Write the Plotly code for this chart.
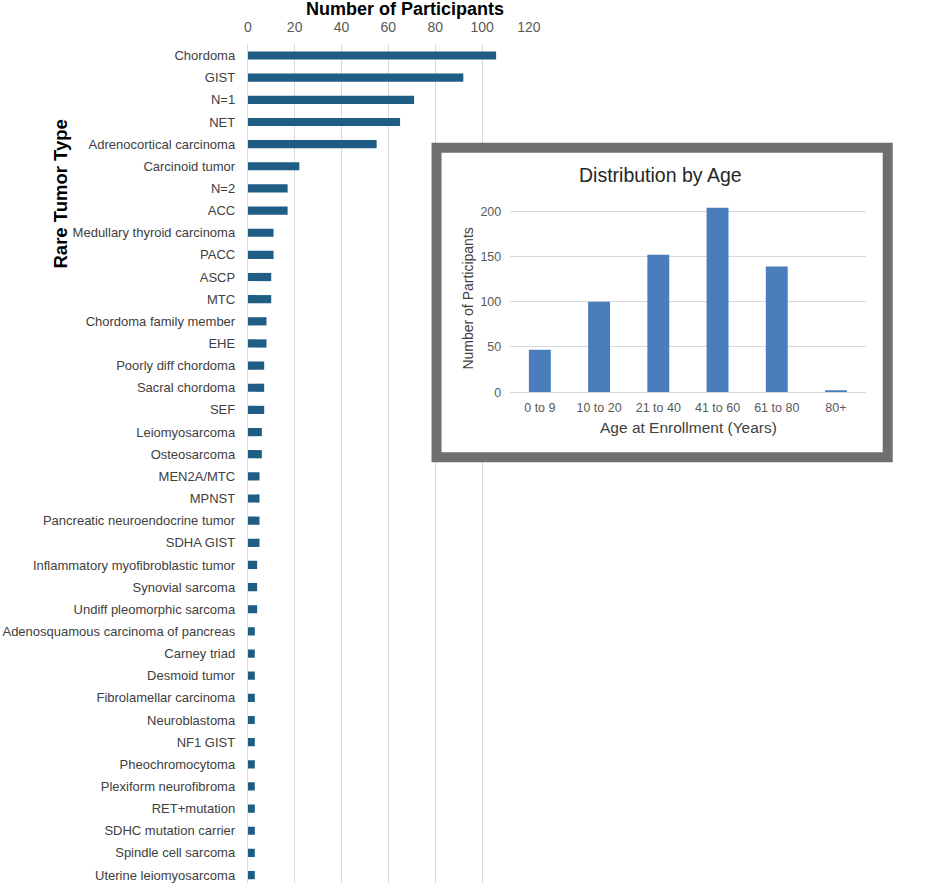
import plotly.graph_objects as go

# ---------------- data ----------------
tumor_types = [
    "Chordoma", "GIST", "N=1", "NET", "Adrenocortical carcinoma", "Carcinoid tumor",
    "N=2", "ACC", "Medullary thyroid carcinoma", "PACC", "ASCP", "MTC",
    "Chordoma family member", "EHE", "Poorly diff chordoma", "Sacral chordoma", "SEF",
    "Leiomyosarcoma", "Osteosarcoma", "MEN2A/MTC", "MPNST",
    "Pancreatic neuroendocrine tumor", "SDHA GIST", "Inflammatory myofibroblastic tumor",
    "Synovial sarcoma", "Undiff pleomorphic sarcoma", "Adenosquamous carcinoma of pancreas",
    "Carney triad", "Desmoid tumor", "Fibrolamellar carcinoma", "Neuroblastoma", "NF1 GIST",
    "Pheochromocytoma", "Plexiform neurofibroma", "RET+mutation", "SDHC mutation carrier",
    "Spindle cell sarcoma", "Uterine leiomyosarcoma",
]
participants = [
    106, 92, 71, 65, 55, 22,
    17, 17, 11, 11, 10, 10,
    8, 8, 7, 7, 7,
    6, 6, 5, 5,
    5, 5, 4,
    4, 4, 3,
    3, 3, 3, 3, 3,
    3, 3, 3, 3,
    3, 3,
]
x_ticks = [0, 20, 40, 60, 80, 100, 120]

age_groups = ["0 to 9", "10 to 20", "21 to 40", "41 to 60", "61 to 80", "80+"]
age_counts = [47, 100, 152, 204, 139, 2]
age_ticks = [0, 50, 100, 150, 200]

# ---------------- layout helpers (pixel -> paper) ----------------
W, H = 941, 890
def px(x):
    return x / W
def py(y):
    return 1 - y / H

n = len(tumor_types)
row_h = (882 - 56) / (n - 1)
bottom_extra = (890 - 882) / row_h

fig = go.Figure()

# main horizontal bar chart
fig.add_trace(go.Bar(
    x=participants, y=tumor_types, orientation="h",
    marker=dict(color="#1f5d84", line=dict(width=0)),
    xaxis="x", yaxis="y", showlegend=False, hoverinfo="x+y",
))

# empty subplot used as the inset's white card
fig.add_trace(go.Scatter(x=[], y=[], xaxis="x2", yaxis="y2", showlegend=False))

# inset age distribution
fig.add_trace(go.Bar(
    x=age_groups, y=age_counts,
    marker=dict(color="#4a7dbc", line=dict(width=0)),
    xaxis="x3", yaxis="y3", showlegend=False,
))

fig.update_layout(
    width=W, height=H, autosize=False,
    margin=dict(l=0, r=0, t=0, b=0),
    paper_bgcolor="white", plot_bgcolor="white",
    bargap=0.63,
    font=dict(family="Liberation Sans, Arial, sans-serif", color="#404040"),
    xaxis=dict(
        domain=[px(248), px(534)], range=[0, 120], side="top", anchor="y",
        tickvals=x_ticks, showgrid=True, gridcolor="#d9d9d9", gridwidth=1,
        zeroline=False, showline=False, ticks="", ticklabelstandoff=9,
        tickfont=dict(size=14, color="#595959"),
    ),
    yaxis=dict(
        domain=[0, py(44.8)], anchor="x", type="category",
        range=[n - 1 + bottom_extra, -0.5],
        showgrid=False, zeroline=False, showline=True, linecolor="#d9d9d9",
        ticks="", ticklabelstandoff=9,
        tickfont=dict(size=13, color="#404040"),
    ),
    xaxis2=dict(domain=[px(445), px(894)], anchor="y2", visible=False, range=[0, 1]),
    yaxis2=dict(domain=[py(456), py(153)], anchor="x2", visible=False, range=[0, 1]),
    xaxis3=dict(
        domain=[px(515), px(876.5)], anchor="y3", type="category",
        showgrid=False, zeroline=False, showline=True, linecolor="#d9d9d9",
        ticks="", ticklabelstandoff=4, tickfont=dict(size=12.5, color="#595959"),
    ),
    yaxis3=dict(
        domain=[py(395.3), py(203.9)], anchor="x3", range=[0, 210],
        tickvals=age_ticks, showgrid=True, gridcolor="#d9d9d9",
        zeroline=False, showline=False, ticks="", ticklabelstandoff=8,
        tickfont=dict(size=12.5, color="#595959"),
    ),
    shapes=[dict(
        type="rect", xref="paper", yref="paper",
        x0=px(440), x1=px(899), y0=py(461), y1=py(149),
        line=dict(color="#6f6f6f", width=10), fillcolor="rgba(0,0,0,0)", layer="above",
    )],
    annotations=[
        dict(text="<b>Number of Participants</b>", x=px(408), y=py(9), xref="paper", yref="paper",
             showarrow=False, font=dict(size=18, color="#000000"), xanchor="center", yanchor="middle"),
        dict(text="<b>Rare Tumor Type</b>", x=px(57), y=py(196), xref="paper", yref="paper",
             showarrow=False, textangle=-90, font=dict(size=18.5, color="#000000"),
             xanchor="center", yanchor="middle"),
        dict(text="Distribution by Age", x=px(668), y=py(176), xref="paper", yref="paper",
             showarrow=False, font=dict(size=19.5, color="#262626"), xanchor="center", yanchor="middle"),
        dict(text="Age at Enrollment (Years)", x=px(696), y=py(431), xref="paper", yref="paper",
             showarrow=False, font=dict(size=15.5, color="#404040"), xanchor="center", yanchor="middle"),
        dict(text="Number of Participants", x=px(472), y=py(301), xref="paper", yref="paper",
             showarrow=False, textangle=-90, font=dict(size=14, color="#404040"),
             xanchor="center", yanchor="middle"),
    ],
)

page_fix = (
    "var s=document.documentElement.style;s.margin='0';s.padding='0';s.overflow='hidden';"
    "var b=document.body.style;b.margin='0';b.padding='0';b.overflow='hidden';"
)
fig.write_html(
    "out.html",
    config={"displayModeBar": False, "responsive": False},
    post_script=page_fix,
)
